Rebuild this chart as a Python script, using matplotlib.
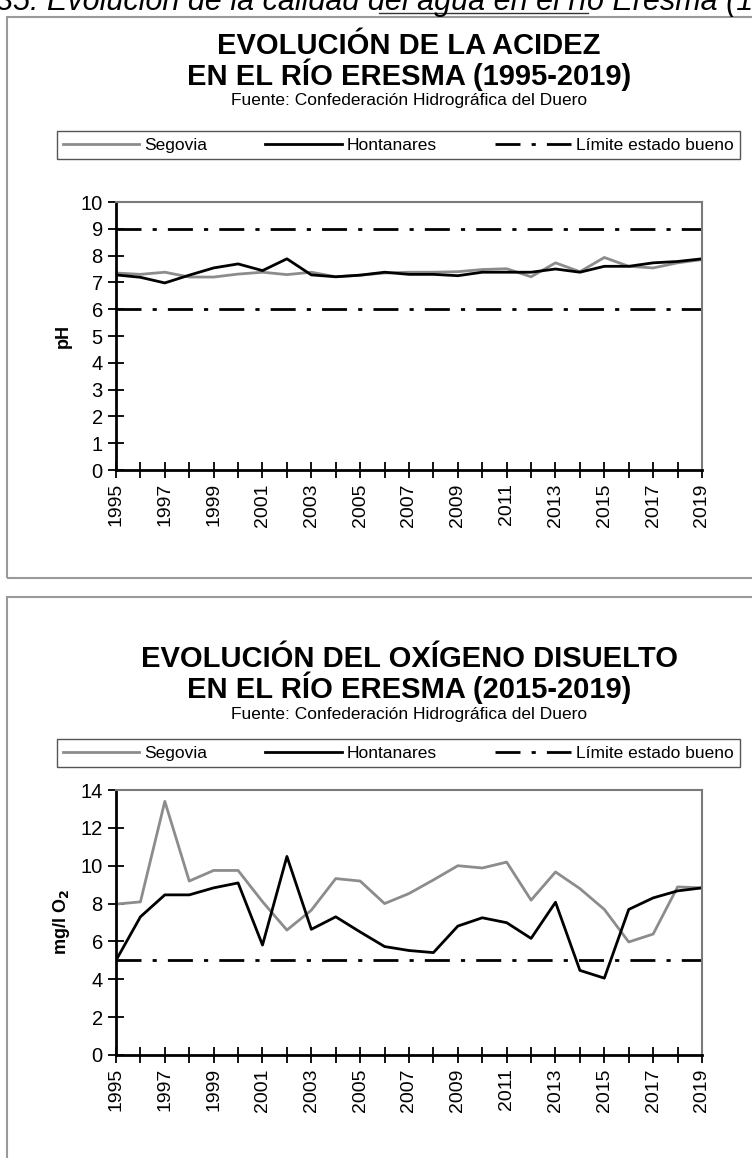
import matplotlib
matplotlib.use("Agg")
import matplotlib.pyplot as plt
from matplotlib.patches import Rectangle
from matplotlib.lines import Line2D

years = list(range(1995, 2020))

# pH
ph_segovia = [7.35, 7.30, 7.38, 7.20, 7.20, 7.31, 7.38, 7.29, 7.38, 7.21, 7.27, 7.35, 7.38,
              7.38, 7.40, 7.48, 7.51, 7.21, 7.73, 7.40, 7.93, 7.60, 7.54, 7.73, 7.85]
ph_hontanares = [7.28, 7.19, 6.98, 7.27, 7.54, 7.69, 7.44, 7.88, 7.28, 7.21, 7.27, 7.38, 7.30,
                 7.30, 7.25, 7.38, 7.38, 7.38, 7.50, 7.38, 7.60, 7.60, 7.73, 7.78, 7.88]
ph_limits = [6, 9]

# oxigeno disuelto (mg/l O2)
ox_segovia = [7.97, 8.09, 13.4, 9.19, 9.75, 9.75, 8.10, 6.60, 7.65, 9.32, 9.19, 8.00, 8.53,
              9.25, 10.0, 9.88, 10.19, 8.18, 9.67, 8.79, 7.69, 5.97, 6.39, 8.88, 8.83]
ox_hontanares = [5.0, 7.30, 8.46, 8.46, 8.83, 9.09, 5.81, 10.49, 6.64, 7.30, 6.50, 5.73, 5.52,
                 5.41, 6.81, 7.25, 6.99, 6.16, 8.07, 4.47, 4.06, 7.69, 8.30, 8.67, 8.83]
ox_limits = [5]

W, H = 752, 1158
fig = plt.figure(figsize=(W / 100, H / 100), dpi=100)

arial = ["Liberation Sans", "DejaVu Sans"]
GRAY = "#8c8c8c"
DASHDOT = (0, (9, 4, 1.5, 4))


def fx(px):
    return px / W


def fy(py):
    return 1 - py / H


# caption cut at top of the page
fig.text(fx(-4), fy(10), "35. Evolución de la calidad del agua en el río Eresma (1995-2019)",
         fontsize=22, style="italic", family=arial, va="baseline", ha="left")
fig.add_artist(Line2D([fx(379), fx(588)], [fy(13), fy(13)], color="#333333", lw=1))

# panel frames
for top, bottom in [(17, 578), (597, 1175)]:
    fig.add_artist(Rectangle((fx(7), fy(bottom)), fx(770) - fx(7), fy(top) - fy(bottom),
                             fill=False, edgecolor="#9a9a9a", lw=1.5, transform=fig.transFigure))


def panel(title1, title2, y_title, y_legend, ax_top, ax_bottom, seg, hon, limits, ymax, ystep, ylabel):
    fig.text(fx(409), fy(y_title), title1, fontsize=21, weight="bold", family=arial,
             ha="center", va="center")
    fig.text(fx(409), fy(y_title + 29), title2, fontsize=21, weight="bold", family=arial,
             ha="center", va="center")
    fig.text(fx(409), fy(y_title + 55), "Fuente: Confederación Hidrográfica del Duero",
             fontsize=12.5, family=arial, ha="center", va="center")

    ax = fig.add_axes([fx(116), fy(ax_bottom), fx(702) - fx(116), fy(ax_top) - fy(ax_bottom)])
    l1, = ax.plot(years, seg, color=GRAY, lw=2, label="Segovia")
    l2, = ax.plot(years, hon, color="black", lw=2, label="Hontanares")
    for lim in limits:
        l3 = ax.axhline(lim, color="black", lw=2, linestyle=DASHDOT, label="Límite estado bueno")

    ax.set_xlim(years[0], years[-1])
    ax.set_ylim(0, ymax)
    ax.set_xticks(years)
    ax.set_xticklabels([str(y) if (y - 1995) % 2 == 0 else "" for y in years],
                       rotation=90, fontsize=14, family=arial)
    ax.set_yticks(range(0, ymax + 1, ystep))
    ax.set_yticklabels([str(v) for v in range(0, ymax + 1, ystep)], fontsize=14.5, family=arial)
    ax.tick_params(direction="inout", length=12, width=1.3, color="black")
    for s in ["left", "bottom"]:
        ax.spines[s].set_linewidth(2)
        ax.spines[s].set_color("black")
    for s in ["top", "right"]:
        ax.spines[s].set_linewidth(1.5)
        ax.spines[s].set_color("#7a7a7a")
    ax.set_ylabel(ylabel, fontsize=13, weight="bold", family=arial, labelpad=6)

    fig.legend([l1, l2, l3], ["Segovia", "Hontanares", "Límite estado bueno"],
               loc="center", ncol=3, mode="expand",
               bbox_to_anchor=(fx(57), fy(y_legend + 14), fx(740) - fx(57), fy(y_legend - 14) - fy(y_legend + 14)),
               bbox_transform=fig.transFigure, fancybox=False, edgecolor="#555555",
               framealpha=1, prop={"family": arial, "size": 12.5}, handlelength=4.4,
               borderaxespad=0, borderpad=0.35, handletextpad=0.3, columnspacing=1.0)
    return ax


panel("EVOLUCIÓN DE LA ACIDEZ", "EN EL RÍO ERESMA (1995-2019)", 46, 145,
      202, 470, ph_segovia, ph_hontanares, ph_limits, 10, 1, "pH")
panel("EVOLUCIÓN DEL OXÍGENO DISUELTO", "EN EL RÍO ERESMA (2015-2019)", 659, 753,
      790, 1055, ox_segovia, ox_hontanares, ox_limits, 14, 2, "mg/l O$_\\mathbf{2}$")

fig.savefig("out.png", dpi=100)
